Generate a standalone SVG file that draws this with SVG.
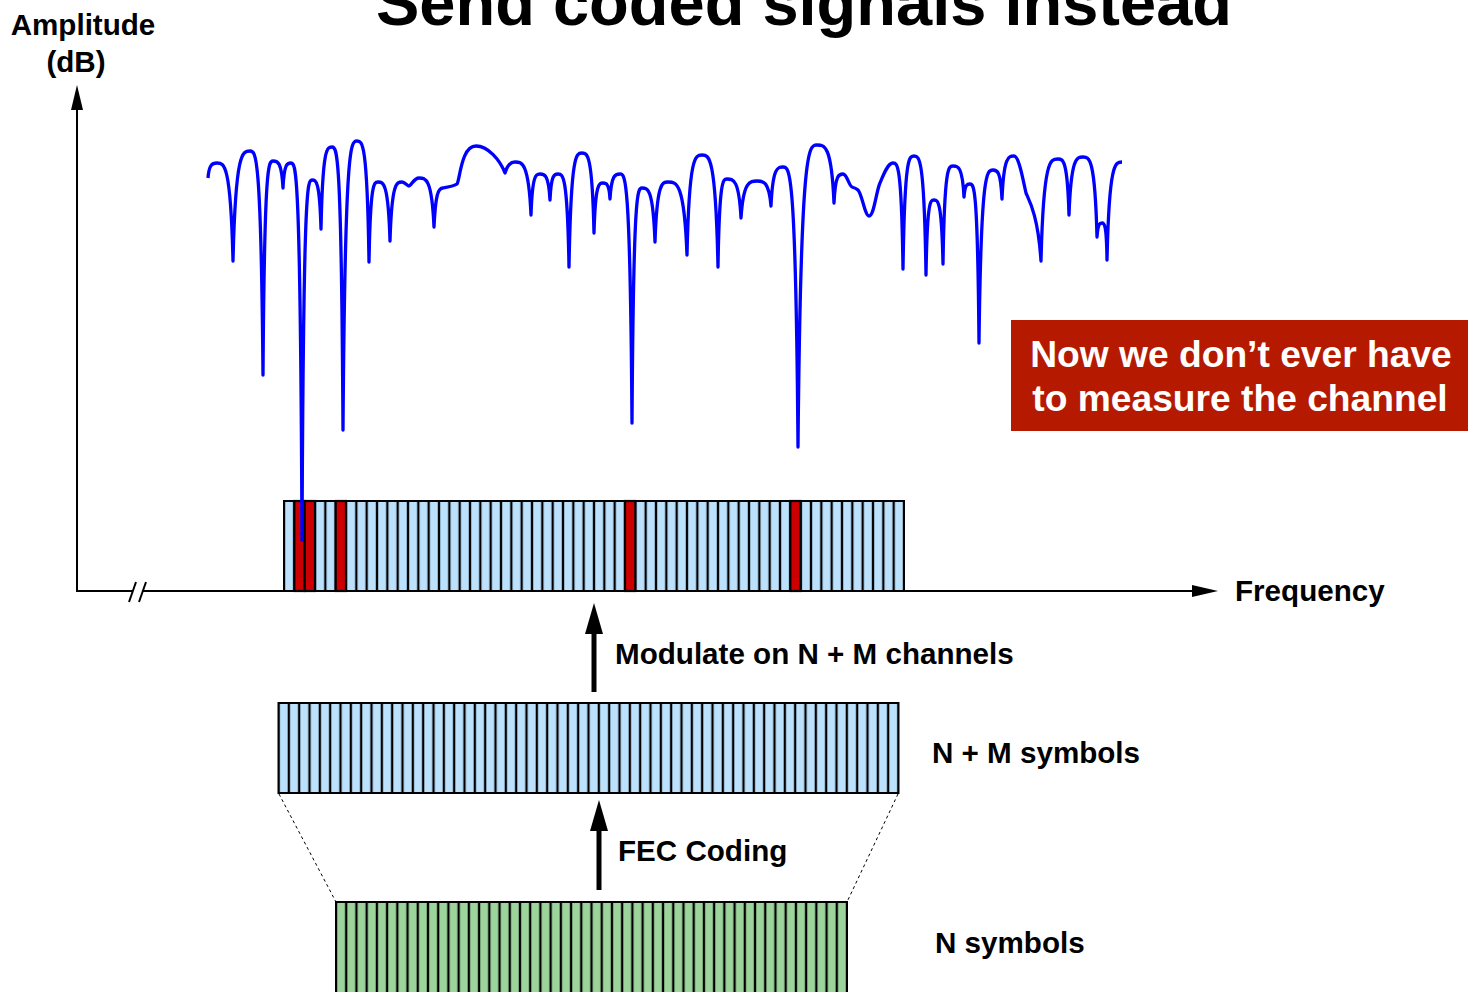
<svg xmlns="http://www.w3.org/2000/svg" width="1468" height="992" viewBox="0 0 1468 992">
<defs>
<style>
text{font-family:"Liberation Sans",Arial,Helvetica,sans-serif;font-weight:bold;fill:#000}
.lbl{font-size:29.6px}
.cellr{fill:#cc0000;stroke:#000;stroke-width:2.2}
.ax{stroke:#000;stroke-width:2;fill:none}
.dash{stroke:#000;stroke-width:1;stroke-dasharray:3 3;fill:none}
</style>
<pattern id="pb" x="284" y="0" width="10.3333" height="992" patternUnits="userSpaceOnUse">
<rect x="0" y="0" width="10.3333" height="992" fill="#bbe1fd"/>
<line x1="0" y1="0" x2="0" y2="992" stroke="#000" stroke-width="2.3"/>
<line x1="10.3333" y1="0" x2="10.3333" y2="992" stroke="#000" stroke-width="2.3"/>
</pattern>
<pattern id="pb2" x="278.5" y="0" width="10.3333" height="992" patternUnits="userSpaceOnUse">
<rect x="0" y="0" width="10.3333" height="992" fill="#bbe1fd"/>
<line x1="0" y1="0" x2="0" y2="992" stroke="#000" stroke-width="2.3"/>
<line x1="10.3333" y1="0" x2="10.3333" y2="992" stroke="#000" stroke-width="2.3"/>
</pattern>
<pattern id="pg" x="336" y="0" width="10.22" height="992" patternUnits="userSpaceOnUse">
<rect x="0" y="0" width="10.22" height="992" fill="#9cd49c"/>
<line x1="0" y1="0" x2="0" y2="992" stroke="#000" stroke-width="2.3"/>
<line x1="10.22" y1="0" x2="10.22" y2="992" stroke="#000" stroke-width="2.3"/>
</pattern>
</defs>

<text x="804" y="25" font-size="65" text-anchor="middle">Send coded signals instead</text>

<g id="axes">
<line class="ax" x1="77" y1="591" x2="77" y2="108"/>
<polygon points="77,85 71,110 83,110" fill="#000"/>
<line class="ax" x1="76" y1="591" x2="133" y2="591"/>
<line class="ax" x1="142" y1="591" x2="1195" y2="591"/>
<polygon points="1218,591 1192,585 1192,597" fill="#000"/>
<line class="ax" x1="129" y1="602" x2="136" y2="582"/>
<line class="ax" x1="139" y1="602" x2="146" y2="582"/>
<text class="lbl" x="83" y="35" text-anchor="middle">Amplitude</text>
<text class="lbl" x="76" y="72" text-anchor="middle">(dB)</text>
<text class="lbl" x="1235" y="601">Frequency</text>
</g>

<g id="channel-bar">
<rect x="284" y="501" width="620" height="90" fill="url(#pb)" stroke="#000" stroke-width="2"/>
<rect class="cellr" x="294.33" y="501" width="10.33" height="90"/>
<rect class="cellr" x="304.67" y="501" width="10.33" height="90"/>
<rect class="cellr" x="335.67" y="501" width="10.33" height="90"/>
<rect class="cellr" x="625" y="501" width="10.33" height="90"/>
<rect class="cellr" x="790.33" y="501" width="10.33" height="90"/>
</g>

<g id="channel-response">
<path fill="none" stroke="#0000ff" stroke-width="3.3" stroke-linejoin="round" d="M208,178 C209,165 212,163 217,163 C224.2,163 230.6,163 233,261 C235.6,151 242.4,151 250,151 C255.9,151 261,151 263,375 C264.5,161 268.5,161 273,161 C277.5,161 281.5,161 283,188 C284.2,163 287.4,163 291,163 C296,163 300.4,163 302,540 C303.5,180 307.5,180 312,180 C316,180 319.6,180 321,229 C322.7,147 327,147 332,147 C337,147 341.4,147 343,430 C345.1,141 350.7,141 357,141 C362.4,141 367.2,141 369,262 C370.4,182 374,182 378,182 C383.4,182 388.2,182 390,241 C391.8,182 396.6,182 402,182 C405,182 407,186 409,186 C411,186 414,178 419,178 C425.8,178 431.8,178 434,227 C435.5,195 438,188 443,188 C448,187 454,186 457,184 C460,180 461,146 476,146 C488,146 500,160 505,173 C507,166 510,162 515,162 C522,162 528.6,162 531,215 C532.4,174 536,174 540,174 C544.5,174 548.5,174 550,200 C551.2,174 554.4,174 558,174 C563,174 567.4,174 569,267 C571,153 576.2,153 582,153 C587.4,153 592.2,153 594,233 C595.4,183 599,183 603,183 C606,183 609,183 610,199 C611.5,174 615.5,174 620,174 C625.4,174 630.2,174 632,423 C633.5,188 637.5,188 642,188 C647.9,188 653,188 655,242 C657,182 662.2,182 668,182 C676.6,182 684.2,182 687,255 C689.2,155 695.2,155 702,155 C709.2,155 715.6,155 718,267 C719.4,179 723,179 727,179 C733.3,179 738.9,179 741,218 C743.4,181 749.8,181 757,181 C763.3,181 768.9,181 771,206 C772.8,167 777.6,167 783,167 C789.8,167 795.8,167 798,447 C800.8,145 808.5,145 817,145 C824.7,145 831.5,145 834,203 C835.4,174 839,174 843,174 C847,174 849,186 852,187 C855,188 857,189 858,190 C862,194 865,216 869,216 C874,216 876,192 880,183 C884,173 888,163 893,163 C897.5,163 901.5,163 903,269 C904.7,156 909,156 914,156 C919.4,156 924.2,156 926,275 C927.2,200 930.4,200 934,200 C938,200 941.6,200 943,264 C944.5,166 948.5,166 953,166 C958,166 962.4,166 964,197 C965,184 967.3,184 970,184 C974,184 977.6,184 979,343 C981.1,170 986.7,170 993,170 C997,170 1000.6,170 1002,199 C1003.8,156 1008.6,156 1014,156 C1019,156 1023,180 1026,193 C1029,200 1038,215 1041,261 C1043.5,159 1050.3,159 1058,159 C1063,159 1067.4,159 1069,215 C1071.1,157 1076.7,157 1083,157 C1089.3,157 1094.9,157 1097,237 C1098,223 1100,223 1102,223 C1104,223 1106.5,223 1107,260 C1109.2,162 1115.2,162 1122,162"/>
</g>

<g id="note">
<rect x="1011" y="320" width="457" height="111" fill="#b51a00"/>
<text x="1241" y="367" font-size="37.2" text-anchor="middle" style="fill:#fff">Now we don’t ever have</text>
<text x="1240" y="411" font-size="37.2" text-anchor="middle" style="fill:#fff">to measure the channel</text>
</g>

<g id="connectors">
<line x1="594" y1="692" x2="594" y2="628" stroke="#000" stroke-width="5"/>
<polygon points="594,603 585,634 603,634" fill="#000"/>
<line x1="599" y1="890" x2="599" y2="826" stroke="#000" stroke-width="5"/>
<polygon points="599,800 590,831 608,831" fill="#000"/>
<line class="dash" x1="279" y1="794" x2="336" y2="902"/>
<line class="dash" x1="898" y1="794" x2="847" y2="902"/>
</g>

<g id="coded-symbols">
<rect x="278.5" y="703" width="620" height="90" fill="url(#pb2)" stroke="#000" stroke-width="2"/>
<text class="lbl" x="932" y="763">N + M symbols</text>
</g>

<g id="data-symbols">
<rect x="336" y="902" width="511" height="100" fill="url(#pg)" stroke="#000" stroke-width="2"/>
<text class="lbl" x="935" y="953">N symbols</text>
</g>

<text class="lbl" x="615" y="664">Modulate on N + M channels</text>
<text class="lbl" x="618" y="861">FEC Coding</text>
</svg>
